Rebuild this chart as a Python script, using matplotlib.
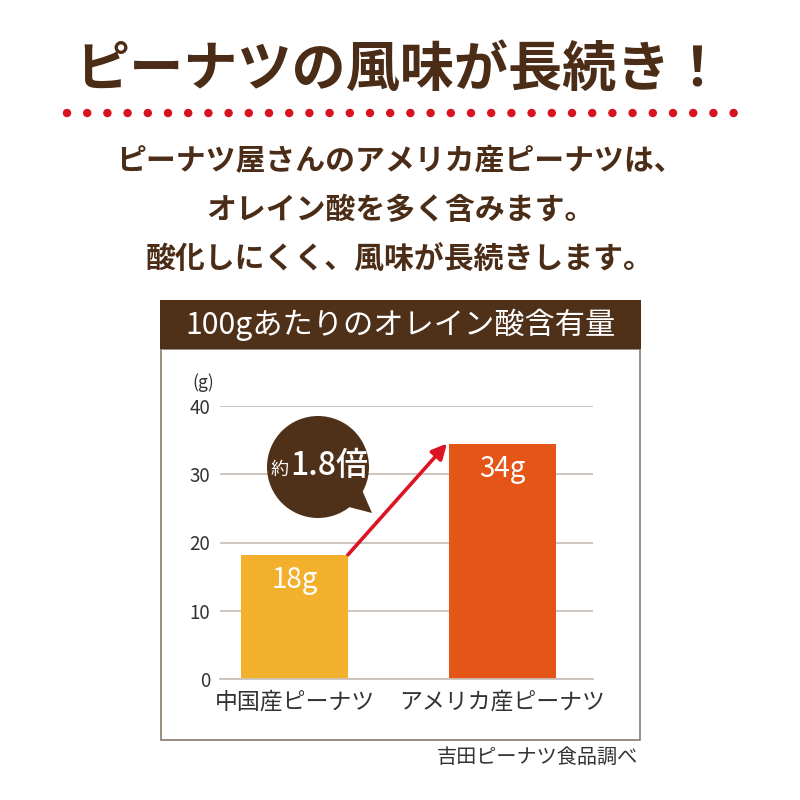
import matplotlib
matplotlib.use("Agg")
import matplotlib.pyplot as plt
from matplotlib.patches import Circle, Polygon, Rectangle

plt.rcParams['font.family'] = ['Noto Sans CJK JP', 'DejaVu Sans']

# data
categories = ["中国産ピーナツ", "アメリカ産ピーナツ"]
values = [18.2, 34.5]
value_labels = ["18g", "34g"]
yticks = [0, 10, 20, 30, 40]

title = "ピーナツの風味が長続き！"
sub_lines = ["ピーナツ屋さんのアメリカ産ピーナツは、",
             "オレイン酸を多く含みます。",
             "酸化しにくく、風味が長続きします。"]
panel_title = "100gあたりのオレイン酸含有量"
ratio_text = ("約", "1.8倍")
source = "吉田ピーナツ食品調べ"

BROWN = "#4b2d17"
HEADER = "#4f3019"
BAR_COLORS = ["#f2b02d", "#e45517"]
RED = "#dd1522"
GRID = "#c9c2bb"


def main():
    fig = plt.figure(figsize=(8, 8), dpi=100)
    fig.patch.set_facecolor("white")

    # background decoration layer in pixel coords (y downward)
    bg = fig.add_axes([0, 0, 1, 1], zorder=0)
    bg.set_xlim(0, 800)
    bg.set_ylim(800, 0)
    bg.axis("off")

    bg.text(400, 70, title, ha="center", va="center", fontsize=39,
            fontweight="bold", color=BROWN)
    for i in range(34):
        bg.add_patch(Circle((67 + i * 20.2, 113), 4.2, color="#d7131f", lw=0))
    for i, line in enumerate(sub_lines):
        bg.text(400, 160 + 50 * i, line, ha="center", va="center",
                fontsize=21.5, fontweight="bold", color=BROWN)

    bg.add_patch(Rectangle((161, 349), 479, 391, fill=False,
                           edgecolor="#8a7b6c", lw=1.2))
    bg.add_patch(Rectangle((160, 300), 481, 49, color=HEADER, lw=0))
    bg.text(400, 325, panel_title, ha="center", va="center", fontsize=21.8,
            color="white")
    bg.text(638, 757, source, ha="right", va="center", fontsize=14.5,
            color="#333333")

    # chart
    ax = fig.add_axes([0.275, 0.15125, 0.46625, 0.34125], zorder=1)
    ax.patch.set_alpha(0)
    x = [0, 1]
    bars = ax.bar(x, values, width=0.514, color=BAR_COLORS, zorder=2)
    ax.set_xlim(-0.358, 1.435)
    ax.set_ylim(0, 40)
    ax.set_yticks(yticks)
    ax.yaxis.grid(True, color=GRID, lw=1.3, zorder=0)
    ax.set_axisbelow(True)
    for s in ["left", "right", "top"]:
        ax.spines[s].set_visible(False)
    ax.spines["bottom"].set_color(GRID)
    ax.spines["bottom"].set_linewidth(1.3)
    ax.tick_params(axis="y", length=0, pad=7, labelsize=13.5, labelcolor="#333333")
    ax.tick_params(axis="x", length=0, pad=8, labelsize=16.5, labelcolor="#333333")
    ax.set_xticks(x)
    ax.set_xticklabels(categories)
    ax.text(-0.016, 1.084, "(g)", transform=ax.transAxes, ha="right",
            va="center", fontsize=12.5, color="#333333")

    for b, lab in zip(bars, value_labels):
        ax.annotate(lab, (b.get_x() + b.get_width() / 2, b.get_height()),
                    xytext=(0, -18), textcoords="offset points",
                    ha="center", va="center", fontsize=20, color="white",
                    zorder=3)

    b1, b2 = bars
    ax.annotate("", xy=(b2.get_x() - 0.01, b2.get_height()),
                xytext=(b1.get_x() + b1.get_width(), b1.get_height()),
                arrowprops=dict(arrowstyle="-|>,head_length=0.9,head_width=0.45",
                                color=RED, lw=2.6, shrinkA=0, shrinkB=0),
                zorder=4)

    # speech bubble on top
    fg = fig.add_axes([0, 0, 1, 1], zorder=2)
    fg.set_xlim(0, 800)
    fg.set_ylim(800, 0)
    fg.axis("off")
    fg.add_patch(Circle((318, 467), 51, color=HEADER, lw=0))
    fg.add_patch(Polygon([(345, 506), (362, 490), (372, 513)], closed=True,
                         color=HEADER, lw=0))
    fg.text(289, 470, ratio_text[0], ha="right", va="center", fontsize=13,
            color="white")
    fg.text(290, 466, ratio_text[1], ha="left", va="center", fontsize=23,
            fontweight="medium", color="white")

    fig.savefig("out.png", dpi=100, facecolor="white")


if __name__ == "__main__":
    main()
